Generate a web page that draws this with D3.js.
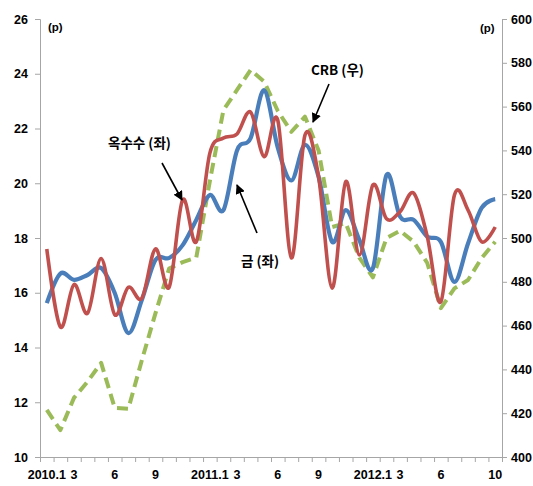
<!DOCTYPE html>
<html>
<head>
<meta charset="utf-8">
<script src="https://cdn.jsdelivr.net/npm/d3@7"></script>
<style>
  html, body { margin: 0; padding: 0; background: #fff; }
  svg { display: block; }
  .tick text { font-family: "Liberation Sans Narrow", "Liberation Sans", sans-serif; font-weight: bold; font-size: 12.5px; fill: #000; }
  .note { font-family: "Noto Sans CJK KR", sans-serif; font-weight: bold; font-size: 13.5px; fill: #000; }
  .unit { font-family: "Liberation Sans Narrow", "Liberation Sans", sans-serif; font-weight: bold; font-size: 11.5px; fill: #000; }
</style>
</head>
<body>
<svg id="chart" width="533" height="486"></svg>
<script>
// Monthly series, 2010.1 – 2012.10
const months = [
  "2010.1","2010.2","2010.3","2010.4","2010.5","2010.6","2010.7","2010.8","2010.9","2010.10","2010.11","2010.12",
  "2011.1","2011.2","2011.3","2011.4","2011.5","2011.6","2011.7","2011.8","2011.9","2011.10","2011.11","2011.12",
  "2012.1","2012.2","2012.3","2012.4","2012.5","2012.6","2012.7","2012.8","2012.9","2012.10"
];
// Labels shown under the category axis
const tickLabels = {
  "2010.1": "2010.1", "2010.3": "3", "2010.6": "6", "2010.9": "9",
  "2011.1": "2011.1", "2011.3": "3", "2011.6": "6", "2011.9": "9",
  "2012.1": "2012.1", "2012.3": "3", "2012.6": "6", "2012.10": "10"
};
// 옥수수 (left axis)
const corn = [17.6,14.75,16.3,15.25,17.25,15.2,16.2,15.8,17.6,16.2,19.4,17.86,
              21.1,21.65,21.8,22.6,20.97,22.3,17.27,21.76,20.24,16.17,20.06,17.38,
              19.94,18.7,18.96,19.64,18.05,15.67,19.57,19.02,17.86,18.4];
// 금 (left axis)
const gold = [15.62,16.7,16.47,16.65,16.9,15.99,14.53,15.74,17.2,17.27,17.74,18.66,
              19.57,19.02,21.2,21.65,23.4,21.3,20.1,21.4,20.24,17.86,19.02,17.93,
              16.9,20.3,18.78,18.66,18.05,17.86,16.4,17.8,19.1,19.42];
// CRB (right axis)
const crb = [421.5,412.3,427,434.4,443,422.4,422,444.3,465.7,486,489,491,
             526,558.4,567.6,576.7,571.4,558,548.5,555.4,540,505,506.8,491,
             482,500,503.3,498.3,488.6,468,477,480.8,490.8,498.3];
const leftTicks = [10,12,14,16,18,20,22,24,26];
const rightTicks = [400,420,440,460,480,500,520,540,560,580,600];

const svg = d3.select("#chart");
const L = 40, R = 502, T = 19, B = 457;
const axisColor = "#a6a6a6";

const x = d3.scaleBand().domain(months).range([L, R]).padding(0);
const xi = d3.scaleLinear().domain([0, months.length]).range([L, R]);
const yL = d3.scaleLinear().domain([10, 26]).range([B, T]);
const yR = d3.scaleLinear().domain([400, 600]).range([B, T]);
const cx = d => x(d) + x.bandwidth() / 2;

// Left axis
const gL = svg.append("g").attr("transform", `translate(${L},0)`)
  .call(d3.axisLeft(yL).tickValues(leftTicks).tickSize(5).tickPadding(7).tickFormat(d3.format("d")));
// Right axis
const gR = svg.append("g").attr("transform", `translate(${R},0)`)
  .call(d3.axisRight(yR).tickValues(rightTicks).tickSize(5).tickPadding(4).tickFormat(d3.format("d")));
// Category axis: tick marks at band edges, labels at band centres
const gB = svg.append("g").attr("transform", `translate(0,${B})`)
  .call(d3.axisBottom(xi).tickValues(d3.range(months.length + 1)).tickSize(5).tickFormat(""));
const gBL = svg.append("g").attr("transform", `translate(0,${B})`)
  .call(d3.axisBottom(x).tickValues(months.filter(m => tickLabels[m])).tickSize(0).tickPadding(13)
        .tickFormat(m => tickLabels[m]));
gBL.select(".domain").remove();

[gL, gR, gB].forEach(g => {
  g.select(".domain").attr("stroke", axisColor);
  g.selectAll(".tick line").attr("stroke", axisColor);
});

// Units
svg.append("text").attr("class", "unit").attr("x", 48).attr("y", 31).text("(p)");
svg.append("text").attr("class", "unit").attr("x", 480).attr("y", 32).text("(p)");

// Series
const smooth = d3.curveCardinal.tension(0);
const lineL = d3.line().x((d, i) => cx(months[i])).y(d => yL(d)).curve(smooth);
const lineR = d3.line().x((d, i) => cx(months[i])).y(d => yR(d)).curve(d3.curveLinear);

svg.append("path").datum(crb).attr("d", lineR)
  .attr("fill", "none").attr("stroke", "#9bbb59").attr("stroke-width", 4)
  .attr("stroke-dasharray", "11,6").attr("stroke-linejoin", "round");
svg.append("path").datum(gold).attr("d", lineL)
  .attr("fill", "none").attr("stroke", "#4a7ebb").attr("stroke-width", 4.2)
  .attr("stroke-linejoin", "round");
svg.append("path").datum(corn).attr("d", lineL)
  .attr("fill", "none").attr("stroke", "#c0504d").attr("stroke-width", 3.6)
  .attr("stroke-linejoin", "round");

// Annotation arrows
svg.append("defs").append("marker")
  .attr("id", "arrow").attr("viewBox", "0 0 10 10").attr("refX", 9).attr("refY", 5)
  .attr("markerWidth", 6).attr("markerHeight", 6).attr("orient", "auto")
  .append("path").attr("d", "M0,0 L10,5 L0,10 Z").attr("fill", "#000");

const notes = [
  { text: "옥수수 (좌)", tx: 108, ty: 148, x1: 162, y1: 163, x2: 182, y2: 200 },
  { text: "금 (좌)",     tx: 241, ty: 266, x1: 257, y1: 233, x2: 237, y2: 185 },
  { text: "CRB (우)",    tx: 311, ty: 75,  x1: 329, y1: 84,  x2: 313, y2: 122 }
];
notes.forEach(n => {
  svg.append("text").attr("class", "note").attr("x", n.tx).attr("y", n.ty).text(n.text);
  svg.append("line").attr("x1", n.x1).attr("y1", n.y1).attr("x2", n.x2).attr("y2", n.y2)
    .attr("stroke", "#000").attr("stroke-width", 1.6).attr("marker-end", "url(#arrow)");
});
</script>
</body>
</html>
